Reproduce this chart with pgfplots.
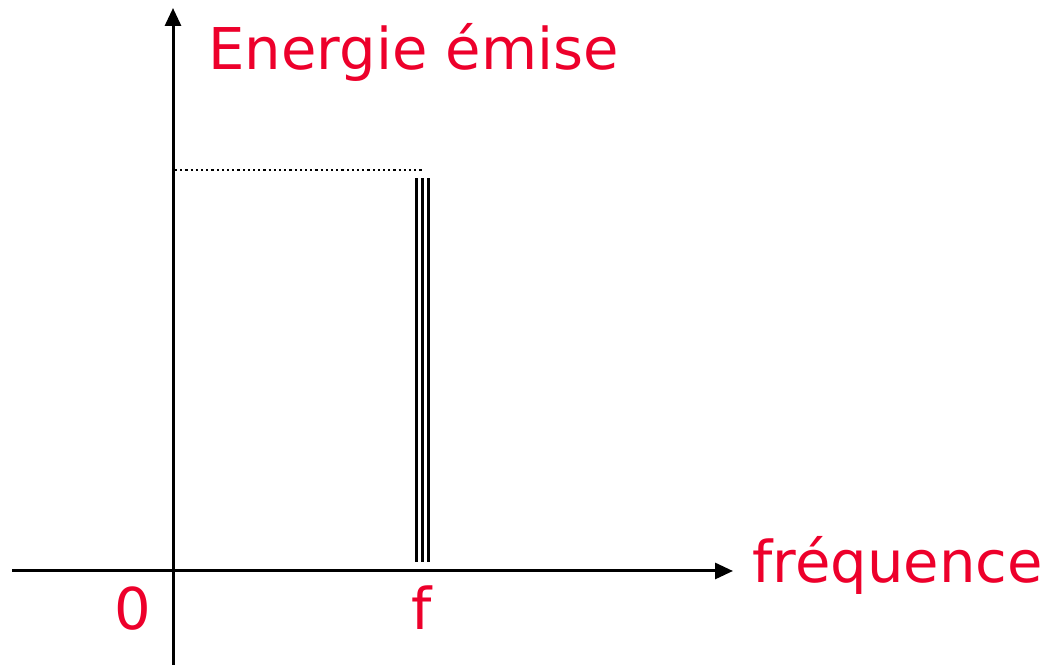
\documentclass[border=0pt]{standalone}
\usepackage{pgfplots}
\pgfplotsset{compat=1.18}
\usepackage{fontspec}
\setmainfont{DejaVu Sans}
\usetikzlibrary{arrows.meta}
\definecolor{lblred}{RGB}{237,0,43}
\begin{document}
\begin{tikzpicture}
\begin{axis}[
  scale only axis, width=524pt, height=332.5pt,
  xmin=-173, xmax=875, ymin=-94, ymax=571,
  axis lines=none, clip=false,
]
% invisible frame fixing the picture's extent
\addplot[draw=none] coordinates {(-173,-94) (875,571)};
% axes
\addplot[black, line width=1.5pt, -{Triangle[length=9pt,width=8pt]}] coordinates {(-161,0) (560,0)};
\addplot[black, line width=1.5pt, -{Triangle[length=9pt,width=8pt]}] coordinates {(0,-94) (0,563)};
% dotted level
\addplot[black, line width=1.1pt, dash pattern=on 1.1pt off 1.5pt] coordinates {(2,401) (249,401)};
% triple line
\addplot[black, line width=1.6pt] coordinates {(243.5,9) (243.5,393)};
\addplot[black, line width=1.6pt] coordinates {(249.5,9) (249.5,393)};
\addplot[black, line width=1.6pt] coordinates {(255.5,9) (255.5,393)};
% labels
\node[anchor=base west, inner sep=0pt, text=lblred, font=\fontsize{28.8}{31}\selectfont] at (axis cs:35,501) {Energie émise};
\node[anchor=base west, inner sep=0pt, text=lblred, font=\fontsize{28.8}{31}\selectfont] at (axis cs:579,-12) {fréquence};
\node[anchor=base, inner sep=0pt, text=lblred, font=\fontsize{28.8}{31}\selectfont] at (axis cs:-40,-59) {0};
\node[anchor=base, inner sep=0pt, text=lblred, font=\fontsize{28.8}{31}\selectfont] at (axis cs:249,-59) {f};
\end{axis}
\end{tikzpicture}
\end{document}
